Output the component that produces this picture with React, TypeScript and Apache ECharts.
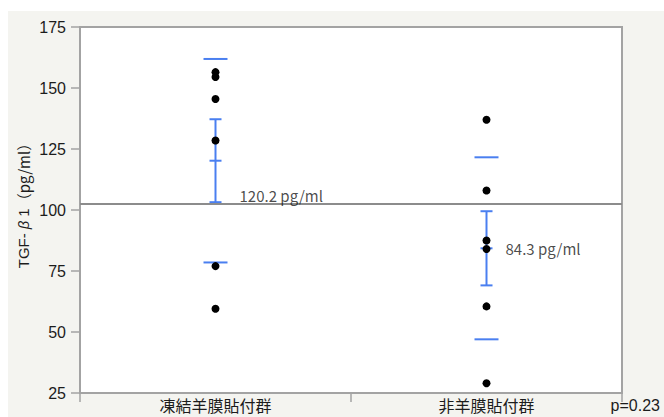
import React, { useEffect, useRef } from "react";
import * as echarts from "echarts";

// Groups and individual TGF-β1 measurements (pg/ml)
const groups = ["凍結羊膜貼付群", "非羊膜貼付群"];
const frozenValues = [156.5, 154.5, 145.5, 128.5, 77, 59.5];
const nonValues = [137, 108, 87.5, 84, 60.5, 29];

// Group summaries: mean, standard deviation, standard error
const means = [120.2, 84.3];
const sds = [41.7, 37.3];
const ses = [17.0, 15.2];
const grandMean = 102.4;

// Vertical placement of the mean labels (pg/ml on the y scale)
const meanLabelY = [106, 84.3];
const yTicks = { min: 25, max: 175, interval: 25 };
const pLabel = "p=0.23";

const BLUE = "#4a7ff0";
const AXIS_GRAY = "#a3a3a3";
const TEXT = "#1c1c1c";
const LATIN = "'Liberation Sans', Arial, sans-serif";
const CJK = "'Noto Sans CJK JP', sans-serif";

export default function App() {
  const ref = useRef<HTMLDivElement>(null);

  useEffect(() => {
    document.body.style.margin = "0";
    if (!ref.current) return;
    const chart = echarts.init(ref.current, undefined, { renderer: "svg" });

    const points: number[][] = [];
    frozenValues.forEach((v) => points.push([0, v]));
    nonValues.forEach((v) => points.push([1, v]));

    const summary = means.map((m, i) => [i, m, sds[i], ses[i]]);

    chart.setOption({
      animation: false,
      backgroundColor: "#ffffff",
      textStyle: { fontFamily: LATIN },
      grid: {
        left: 80,
        right: 42,
        top: 27,
        bottom: 24,
        show: true,
        backgroundColor: "#ffffff",
        borderColor: AXIS_GRAY,
        borderWidth: 2,
      },
      graphic: [
        {
          type: "rect",
          z: -10,
          silent: true,
          shape: { x: 8, y: 11, width: 656, height: 406 },
          style: { fill: "#f4f4f0" },
        },
        {
          type: "text",
          x: 23,
          y: 202,
          rotation: Math.PI / 2,
          style: {
            text: "{a|TGF-}{b|β}{a|1}{c|（pg/ml）}",
            align: "center",
            verticalAlign: "middle",
            rich: {
              a: { fontSize: 15, fill: TEXT, fontFamily: LATIN },
              b: {
                fontSize: 15,
                fill: TEXT,
                fontFamily: LATIN,
                fontStyle: "italic",
                padding: [0, 4, 0, 4],
              },
              c: { fontSize: 15, fill: TEXT, fontFamily: CJK },
            },
          },
        },
        {
          type: "text",
          x: 660,
          y: 405,
          style: {
            text: pLabel,
            fontSize: 16,
            fill: TEXT,
            fontFamily: LATIN,
            align: "right",
            verticalAlign: "middle",
          },
        },
      ],
      xAxis: {
        type: "category",
        data: groups,
        boundaryGap: true,
        axisLine: { lineStyle: { color: AXIS_GRAY, width: 2 } },
        axisTick: { show: true, length: 9, lineStyle: { color: AXIS_GRAY, width: 1.5 } },
        axisLabel: {
          margin: 4,
          fontSize: 16,
          color: TEXT,
          fontFamily: CJK,
        },
        splitLine: { show: false },
      },
      yAxis: {
        type: "value",
        min: yTicks.min,
        max: yTicks.max,
        interval: yTicks.interval,
        axisLine: { show: true, lineStyle: { color: AXIS_GRAY, width: 2 } },
        axisTick: { show: true, length: 9, lineStyle: { color: AXIS_GRAY, width: 1.5 } },
        axisLabel: { margin: 14, fontSize: 16, color: TEXT },
        splitLine: { show: false },
      },
      series: [
        {
          // grand mean reference line
          type: "line",
          data: [],
          markLine: {
            silent: true,
            symbol: "none",
            label: { show: false },
            lineStyle: { color: "#8c8c8c", width: 2, type: "solid" },
            data: [{ yAxis: grandMean }],
          },
        },
        {
          type: "custom",
          data: summary,
          z: 3,
          renderItem: (params: any, api: any) => {
            const cat = api.value(0);
            const m = api.value(1);
            const sd = api.value(2);
            const se = api.value(3);
            const [cx, ym] = api.coord([cat, m]);
            const yHiSd = api.coord([cat, m + sd])[1];
            const yLoSd = api.coord([cat, m - sd])[1];
            const yHiSe = api.coord([cat, m + se])[1];
            const yLoSe = api.coord([cat, m - se])[1];
            const style = { stroke: BLUE, lineWidth: 2 };
            const hl = (y: number, half: number) => ({
              type: "line",
              shape: { x1: cx - half, y1: y, x2: cx + half, y2: y },
              style,
            });
            return {
              type: "group",
              children: [
                hl(yHiSd, 12),
                hl(yLoSd, 12),
                {
                  type: "line",
                  shape: { x1: cx, y1: yHiSe, x2: cx, y2: yLoSe },
                  style,
                },
                hl(yHiSe, 6),
                hl(yLoSe, 6),
                hl(ym, 6),
              ],
            };
          },
        },
        {
          type: "scatter",
          data: points,
          symbol: "circle",
          symbolSize: 8,
          z: 4,
          itemStyle: { color: "#000000", opacity: 1 },
        },
        {
          // mean value labels
          type: "scatter",
          symbolSize: 0,
          z: 5,
          silent: true,
          data: means.map((m, i) => ({
            value: [i, meanLabelY[i]],
            label: {
              show: true,
              position: "right",
              distance: i === 0 ? 24 : 19,
              formatter: `${m.toFixed(1)} pg/ml`,
              fontSize: 15,
              color: TEXT,
              fontFamily: CJK,
            },
          })),
        },
      ],
    });

    return () => chart.dispose();
  }, []);

  return <div ref={ref} style={{ width: 664, height: 417 }} />;
}
